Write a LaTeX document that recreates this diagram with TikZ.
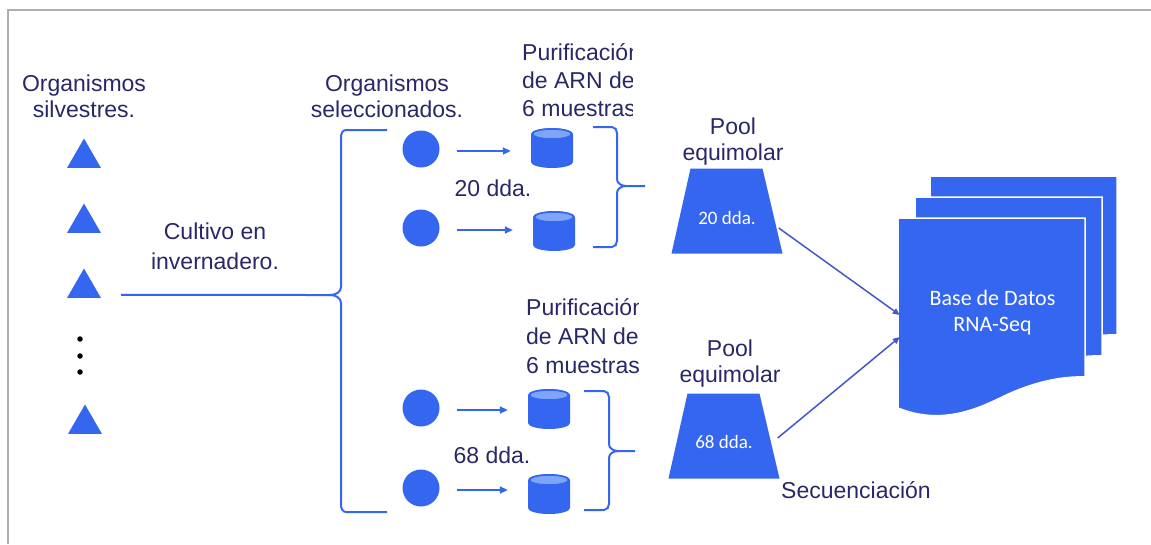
\documentclass[tikz,border=0pt]{standalone}
\usepackage{fontspec}
\setmainfont{Liberation Sans}
\newfontfamily\calfont{Carlito}
\usetikzlibrary{arrows.meta, positioning, shapes.geometric, calc}

\definecolor{figblue}{RGB}{52,102,240}
\definecolor{figlight}{RGB}{125,165,250}
\definecolor{figtext}{RGB}{40,40,105}
\definecolor{figarrow}{RGB}{70,85,205}
\definecolor{figframe}{RGB}{175,175,175}

\tikzset{
  lbl/.style={text=figtext, font=\fontsize{23}{26}\selectfont, align=center, inner sep=0pt},
  tri/.style={regular polygon, regular polygon sides=3, fill=figblue, minimum size=39pt, inner sep=0pt},
  org/.style={circle, fill=figblue, minimum size=37pt, inner sep=0pt},
  tube/.style={rectangle, minimum width=42pt, minimum height=40pt, inner sep=0pt,
    path picture={
      \fill[figblue] ([yshift=-6pt]path picture bounding box.north west)
        -- ([yshift=6pt]path picture bounding box.south west)
        arc[start angle=180, end angle=360, x radius=21pt, y radius=6pt]
        -- ([yshift=-6pt]path picture bounding box.north east)
        arc[start angle=0, end angle=180, x radius=21pt, y radius=6pt] -- cycle;
      \filldraw[fill=figlight, draw=figblue, line width=1.5pt]
        ([yshift=-6pt]path picture bounding box.north) ellipse[x radius=19.5pt, y radius=5pt];
    }},
  pool/.style={rectangle, minimum width=111pt, minimum height=85pt, inner sep=0pt,
    path picture={
      \fill[figblue] ([xshift=19pt]path picture bounding box.north west)
        -- ([xshift=-20pt]path picture bounding box.north east)
        -- (path picture bounding box.south east)
        -- (path picture bounding box.south west) -- cycle;
    }},
  pooltxt/.style={text=white, font=\calfont\fontsize{19}{22}\selectfont, inner sep=0pt},
  brace/.style={draw=figblue, line width=2pt},
  flow/.style={draw=figblue, line width=1.8pt, -{Triangle[length=8pt,width=7pt]},
    shorten <=17pt, shorten >=20pt},
  dbflow/.style={draw=figarrow, line width=1.5pt, -{Triangle[length=7pt,width=6pt]}},
  doc/.style={fill=figblue, draw=white, line width=1.5pt}
}

\begin{document}
\begin{tikzpicture}[x=1pt, y=-1pt, node distance=65pt]
  \useasboundingbox (0,0) rectangle (1151,544);
  \draw[figframe, line width=1.5pt] (8,544) -- (8,10) -- (1151,10);

  % wild organisms
  \node[lbl] (Wild) at (84,96) {Organismos\\silvestres.};
  \node[tri] (T1) at (84,158) {};
  \node[tri] (T2) [below of=T1] {};
  \node[tri] (T3) [below of=T2] {};
  \node[tri] (T4) at (85,424) {};
  \foreach \i/\y in {1/339,2/356,3/372}
    \node[circle, fill=black, minimum size=5.5pt, inner sep=0pt] (D\i) at (80,\y) {};

  \node[lbl, font=\fontsize{23}{30}\selectfont] (Grow) at (215,246) {Cultivo en\\invernadero.};
  \coordinate (B1) at (330,295);
  \draw[brace] ([shift={(20pt,3pt)}]T3.corner 3) -- (B1);
  \draw[brace] (387,130) -- (346,130) to[out=180,in=90] (341,137) -- (341,287)
    to[out=-90,in=0] (B1) to[out=0,in=90] (341,303) -- (341,505)
    to[out=-90,in=180] (346,512) -- (387,512);

  % selected organisms
  \node[lbl] (Sel) at (387,96) {Organismos\\seleccionados.};
  \node[org] (C1) at (421,149) {};
  \node[org] (C2) at (421,228) {};
  \node[org] (C3) at (421,408) {};
  \node[org] (C4) at (421,488) {};
  \node[tube] (P1) at (552,148) {};
  \node[tube] (P2) at (554,231) {};
  \node[tube] (P3) at (549,409) {};
  \node[tube] (P4) at (549,494) {};
  \foreach \a/\b in {C1/P1,C2/P2,C3/P3,C4/P4}
    \draw[flow] ([yshift=-2pt]\a.east) -- ([yshift=-2pt]\a.east -| \b.west);
  \node[lbl] (Day1) at (493,188) {20 dda.};
  \node[lbl] (Day2) at (492,455) {68 dda.};

  % RNA purification
  \begin{scope}
    \clip (500,30) rectangle (632,125);
    \node[lbl, align=left, anchor=north west, font=\fontsize{23}{28}\selectfont]
      (PurA) at (522,43) {Purificación\\de ARN de\\6 muestras};
  \end{scope}
  \begin{scope}
    \clip (500,285) rectangle (638,382);
    \node[lbl, align=left, anchor=north west, font=\fontsize{23}{29}\selectfont]
      (PurB) at (526,298) {Purificación\\de ARN de\\6 muestras};
  \end{scope}
  \draw[brace] (593,127) -- (612,127) to[out=0,in=90] (617,133) -- (617,179)
    to[out=-90,in=180] (626,186) -- (645,186);
  \draw[brace] (626,186) to[out=180,in=90] (617,193) -- (617,241)
    to[out=-90,in=0] (612,247) -- (593,247);
  \draw[brace] (584,391) -- (604,391) to[out=0,in=90] (609,397) -- (609,444)
    to[out=-90,in=180] (618,451) -- (635,451);
  \draw[brace] (618,451) to[out=180,in=90] (609,458) -- (609,504)
    to[out=-90,in=0] (604,510) -- (584,510);

  % equimolar pools
  \node[pool, label={[pooltxt, yshift=-7pt]center:20 dda.}] (Q1) at (727,211) {};
  \node[pool, label={[pooltxt, yshift=-6pt]center:68 dda.}] (Q2) at (724,436) {};
  \node[lbl, above=3pt of Q1, xshift=6pt] (Pool1) {Pool\\equimolar};
  \node[lbl, above=6pt of Q2, xshift=6pt] (Pool2) {Pool\\equimolar};
  \node[lbl] (Seq) at (856,490) {Secuenciación};

  % database
  \foreach \dx/\dy in {32/-42,17/-21,0/0}
    \path[doc, shift={(\dx,\dy)}] (898,218) -- (1085,218) -- (1085,377)
      .. controls (1060,376) and (1030,383) .. (1000,398)
      .. controls (975,410) and (940,425) .. (898,408) -- cycle;
  \node[minimum width=187pt, minimum height=190pt, inner sep=0pt, align=center,
    text=white, font=\calfont\fontsize{22}{26}\selectfont] (DB) at (992.5,313) {Base de Datos\\RNA-Seq};
  \draw[dbflow] ([xshift=-4pt,yshift=-17pt]Q1.east) -- ([xshift=1pt,yshift=-2pt]DB.west);
  \draw[dbflow] ([xshift=-2pt,yshift=-2pt]Q2.east) -- ([xshift=1pt,yshift=-24pt]DB.west);
\end{tikzpicture}
\end{document}
